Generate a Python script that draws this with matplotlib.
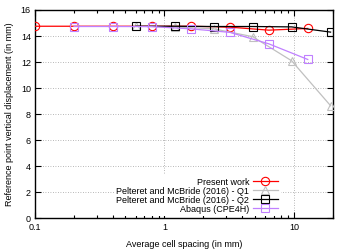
import numpy as np
from matplotlib import pyplot as plt
from matplotlib.ticker import LogLocator, FixedLocator, FixedFormatter

plt.rcParams["font.family"] = ["Liberation Sans", "DejaVu Sans"]
plt.rcParams["font.size"] = 6.5

# data
x_present = [0.1, 0.2, 0.4, 0.8, 1.6, 3.2, 6.4, 12.8]
y_present = [14.75, 14.75, 14.75, 14.75, 14.75, 14.68, 14.45, 14.58]
x_q1 = [0.6, 1.2, 2.4, 4.8, 9.6, 19.2]
y_q1 = [14.75, 14.7, 14.55, 13.95, 12.1, 8.65]
x_q2 = [0.6, 1.2, 2.4, 4.8, 9.6, 19.2]
y_q2 = [14.75, 14.75, 14.73, 14.73, 14.7, 14.3]
x_abaqus = [0.2, 0.4, 0.8, 1.6, 3.2, 6.4, 12.8]
y_abaqus = [14.73, 14.73, 14.72, 14.55, 14.28, 13.4, 12.2]
labels = ["Present work", "Pelteret and McBride (2016) - Q1",
          "Pelteret and McBride (2016) - Q2", "Abaqus (CPE4H)"]
xticks = [0.1, 1, 10]
xticklabels = ["0.1", "1", "10"]
yticks = [0, 2, 4, 6, 8, 10, 12, 14, 16]

fig = plt.figure(figsize=(3.4, 2.49), dpi=100)
ax = fig.add_axes([0.103, 0.123, 0.876, 0.837])

ax.plot(x_present, y_present, color="#ff0000", lw=0.9, marker="o", ms=6,
        mfc="none", mew=0.8, zorder=3, label=labels[0])
ax.plot(x_q1, y_q1, color="#c0c0c0", lw=0.9, marker="^", ms=6,
        mfc="none", mew=0.8, zorder=4, label=labels[1])
ax.plot(x_q2, y_q2, color="#000000", lw=0.9, marker="s", ms=6,
        mfc="none", mew=0.8, zorder=5, label=labels[2])
ax.plot(x_abaqus, y_abaqus, color="#c080ff", lw=0.9, marker="s", ms=6,
        mfc="none", mew=0.8, zorder=6, label=labels[3])

ax.set_xscale("log")
ax.set_xlim(0.1, 20)
ax.set_ylim(0, 16)
ax.xaxis.set_major_locator(FixedLocator(xticks))
ax.xaxis.set_major_formatter(FixedFormatter(xticklabels))
ax.xaxis.set_minor_locator(LogLocator(base=10, subs=np.arange(2, 10)))
ax.xaxis.set_minor_formatter(FixedFormatter([]))
ax.set_yticks(yticks)
ax.tick_params(which="both", direction="in", top=True, right=True, width=0.8, pad=3)
ax.tick_params(which="major", length=4)
ax.tick_params(which="minor", length=2)
for s in ax.spines.values():
    s.set_linewidth(1)
ax.grid(True, which="major", color="#a0a0a0", ls=(0, (1, 2)), lw=0.6)

ax.set_xlabel("Average cell spacing (in mm)", labelpad=6)
ax.set_ylabel("Reference point vertical displacement (in mm)", labelpad=5)

leg = ax.legend(loc="lower right", bbox_to_anchor=(0.825, 0.01), markerfirst=False,
                frameon=True, fancybox=False, edgecolor="none", framealpha=1,
                handlelength=2.8, handletextpad=0.4, labelspacing=0.0,
                borderpad=0.3, borderaxespad=0, fontsize=6.5)

plt.savefig("out.png", dpi=100)
